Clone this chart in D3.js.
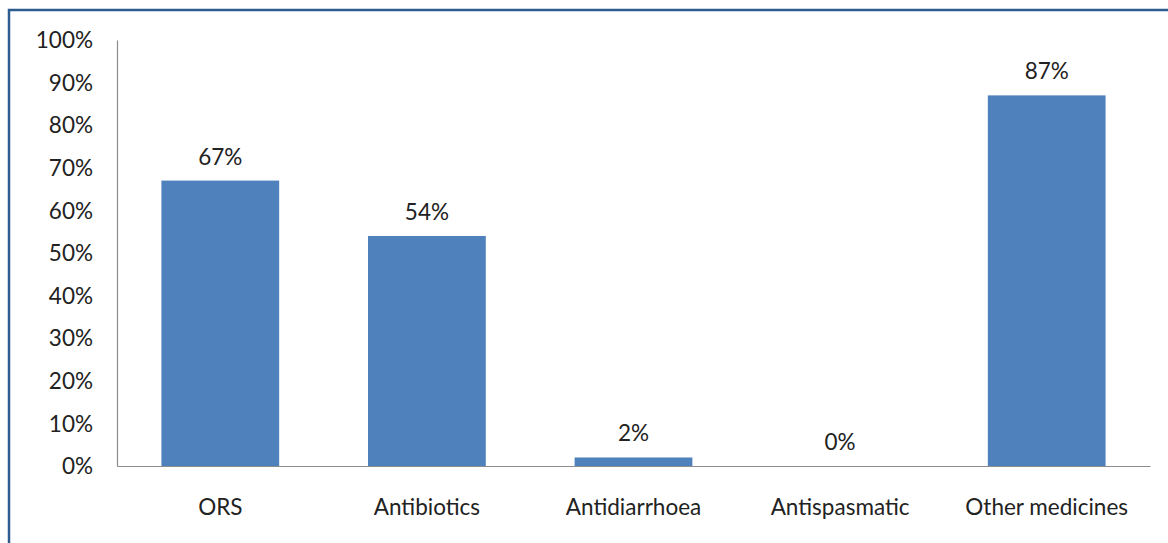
<!DOCTYPE html>
<html>
<head>
<meta charset="utf-8">
<script src="https://cdn.jsdelivr.net/npm/d3@7"></script>
<style>
  html, body { margin: 0; padding: 0; background: #fff; }
  svg { display: block; }
  text { font-family: Lato, "Open Sans", sans-serif; fill: #222; }
</style>
</head>
<body>
<svg id="chart" width="1168" height="543"></svg>
<script>
// Medicines used: share of cases
const categories = ["ORS", "Antibiotics", "Antidiarrhoea", "Antispasmatic", "Other medicines"];
const shares = [67, 54, 2, 0, 87];
const tickValues = [0, 10, 20, 30, 40, 50, 60, 70, 80, 90, 100];

const svg = d3.select("#chart");
const W = 1168, H = 543;
const plot = { left: 117, right: 1150, top: 40, bottom: 466 };
const fontSize = 22.5;

// outer frame (only top and left edges fall inside the view)
svg.append("rect")
  .attr("x", 9).attr("y", 10)
  .attr("width", W + 20).attr("height", H + 20)
  .attr("fill", "none")
  .attr("stroke", "#2e5b90")
  .attr("stroke-width", 2.5);

const x = d3.scaleBand()
  .domain(categories)
  .range([plot.left, plot.right])
  .paddingInner(0.43)
  .paddingOuter(0.215);

const y = d3.scaleLinear()
  .domain([0, 100])
  .range([plot.bottom, plot.top]);

// y axis
const yAxis = svg.append("g")
  .attr("transform", `translate(${plot.left},0)`)
  .call(d3.axisLeft(y).tickValues(tickValues).tickSize(0).tickPadding(24)
    .tickFormat(d => d + "%"));
yAxis.select(".domain").attr("stroke", "#8c8c8c").attr("stroke-width", 1.2);
yAxis.selectAll("text")
  .attr("font-size", fontSize)
  .attr("dy", "0.34em")
  .attr("font-family", "Lato, 'Open Sans', sans-serif")
  .attr("fill", "#222");

// bars
svg.append("g").selectAll("rect")
  .data(categories)
  .join("rect")
  .attr("x", d => x(d))
  .attr("width", x.bandwidth())
  .attr("y", (d, i) => y(shares[i]))
  .attr("height", (d, i) => y(0) - y(shares[i]))
  .attr("fill", "#4f81bd");

// x axis
const xAxis = svg.append("g")
  .attr("transform", `translate(0,${plot.bottom})`)
  .call(d3.axisBottom(x).tickSize(0).tickPadding(33));
xAxis.select(".domain").attr("stroke", "#8c8c8c").attr("stroke-width", 1.2);
xAxis.selectAll("text")
  .attr("font-size", fontSize)
  .attr("font-family", "Lato, 'Open Sans', sans-serif")
  .attr("fill", "#222");

// value labels
svg.append("g").selectAll("text")
  .data(categories)
  .join("text")
  .attr("x", d => x(d) + x.bandwidth() / 2)
  .attr("y", (d, i) => y(shares[i]) - 16)
  .attr("text-anchor", "middle")
  .attr("font-size", fontSize)
  .text((d, i) => shares[i] + "%");
</script>
</body>
</html>
